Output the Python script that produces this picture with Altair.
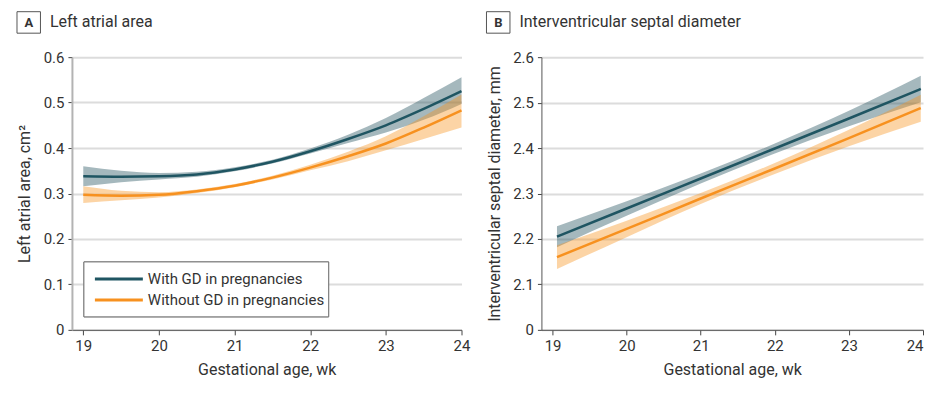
import altair as alt
import pandas as pd

groups = ["With GD in pregnancies", "Without GD in pregnancies"]
line_colors = ["#1f5562", "#f7911f"]
band_colors = ["#1f4e5a", "#f7941d"]

# Panel A: left atrial area (cm^2)
a_weeks = [19.0, 19.5, 20.0, 20.5, 21.0, 21.5, 22.0, 22.5, 23.0, 23.5, 24.0]
a_with_mean = [0.338, 0.337, 0.338, 0.342, 0.353, 0.370, 0.393, 0.420, 0.450, 0.486, 0.525]
a_with_lo = [0.316, 0.325, 0.331, 0.337, 0.349, 0.366, 0.388, 0.411, 0.434, 0.462, 0.497]
a_with_hi = [0.360, 0.350, 0.345, 0.348, 0.358, 0.374, 0.399, 0.429, 0.466, 0.510, 0.556]
a_without_mean = [0.297, 0.295, 0.297, 0.305, 0.317, 0.335, 0.357, 0.382, 0.410, 0.445, 0.483]
a_without_lo = [0.279, 0.285, 0.291, 0.301, 0.314, 0.331, 0.351, 0.371, 0.395, 0.420, 0.445]
a_without_hi = [0.316, 0.306, 0.303, 0.309, 0.321, 0.339, 0.363, 0.392, 0.426, 0.470, 0.518]

# Panel B: interventricular septal diameter (mm)
b_weeks = [19.06, 20.0, 21.0, 22.0, 23.0, 23.97]
b_with_mean = [2.205, 2.267, 2.333, 2.399, 2.465, 2.530]
b_with_lo = [2.182, 2.251, 2.322, 2.388, 2.448, 2.501]
b_with_hi = [2.228, 2.283, 2.344, 2.410, 2.482, 2.559]
b_without_mean = [2.160, 2.222, 2.289, 2.355, 2.422, 2.488]
b_without_lo = [2.134, 2.204, 2.277, 2.343, 2.404, 2.458]
b_without_hi = [2.186, 2.240, 2.301, 2.367, 2.440, 2.517]

x_ticks = [19, 20, 21, 22, 23, 24]
a_y_ticks = [0, 0.1, 0.2, 0.3, 0.4, 0.5, 0.6]
b_y_ticks = [2.0, 2.1, 2.2, 2.3, 2.4, 2.5, 2.6]


def frame(weeks, m1, l1, h1, m2, l2, h2):
    rows = []
    for g, (m, l, h) in zip(groups, [(m1, l1, h1), (m2, l2, h2)]):
        for w, mv, lv, hv in zip(weeks, m, l, h):
            rows.append({"week": w, "mean": mv, "lo": lv, "hi": hv, "group": g})
    return pd.DataFrame(rows)


df_a = frame(a_weeks, a_with_mean, a_with_lo, a_with_hi, a_without_mean, a_without_lo, a_without_hi)
df_b = frame(b_weeks, b_with_mean, b_with_lo, b_with_hi, b_without_mean, b_without_lo, b_without_hi)

FONT = "Roboto"
TEXT = "#333333"
H = 273


def legend_layers():
    ldf = pd.DataFrame({"group": groups})
    frame_box = alt.Chart(ldf).mark_rect(fill="white", stroke="#777777", strokeWidth=1).encode(
        x=alt.value(12), x2=alt.value(257), y=alt.value(205), y2=alt.value(260)
    )
    layers = [frame_box]
    for i, (g, c) in enumerate(zip(groups, line_colors)):
        row_y = 222 + 21 * i
        sub = alt.Chart(ldf).transform_filter(alt.datum.group == g)
        layers.append(sub.mark_rule(strokeWidth=3, color=c).encode(
            x=alt.value(23), x2=alt.value(71), y=alt.value(row_y)))
        layers.append(sub.mark_text(font=FONT, fontSize=15, color=TEXT, align="left",
                                    baseline="middle").encode(
            x=alt.value(76), y=alt.value(row_y), text="group:N"))
    return layers


def panel(df, letter, title, ytitle, ydomain, yticks, label_expr, ydomain_color, ydomain_width,
          last_align, with_legend, width):
    x_axis = alt.Axis(values=x_ticks, title="Gestational age, wk", grid=False,
                      labelPadding=4, titlePadding=8, domainColor="#555555",
                      labelAlign=alt.ExprRef(expr=f"datum.value == 24 ? '{last_align}' : 'center'"))
    y_axis = alt.Axis(values=yticks, labelExpr=label_expr, title=ytitle, grid=True,
                      labelPadding=4, tickSize=4, titleX=-47, titleY=H / 2,
                      titleAngle=270, titleAlign="center", titleBaseline="middle",
                      domainColor=ydomain_color, domainWidth=ydomain_width)
    xs = alt.Scale(domain=[18.85, 24], nice=False, zero=False)
    ys = alt.Scale(domain=ydomain, nice=False, zero=False)

    band = alt.Chart(df).mark_area(opacity=0.4, interpolate="monotone").encode(
        x=alt.X("week:Q", scale=xs, axis=x_axis),
        y=alt.Y("lo:Q", scale=ys, axis=y_axis),
        y2="hi:Q",
        fill=alt.Fill("group:N", scale=alt.Scale(domain=groups, range=band_colors), legend=None),
    )
    line = alt.Chart(df).mark_line(strokeWidth=2.5, interpolate="monotone").encode(
        x=alt.X("week:Q", scale=xs, axis=x_axis),
        y=alt.Y("mean:Q", scale=ys, axis=y_axis),
        color=alt.Color("group:N", scale=alt.Scale(domain=groups, range=line_colors),
                        legend=None),
    )
    lab = pd.DataFrame({"letter": [letter], "title": [title]})
    box = alt.Chart(lab).mark_rect(fill="white", stroke="#555555", strokeWidth=1).encode(
        x=alt.value(-55), x2=alt.value(-31.5), y=alt.value(-45.5), y2=alt.value(-24)
    )
    letter_t = alt.Chart(lab).mark_text(font=FONT, fontSize=13, fontWeight="bold", color=TEXT,
                                        align="center", baseline="middle").encode(
        x=alt.value(-43.2), y=alt.value(-34.5), text="letter:N"
    )
    title_t = alt.Chart(lab).mark_text(font=FONT, fontSize=16, color=TEXT,
                                       align="left", baseline="middle").encode(
        x=alt.value(-22), y=alt.value(-35), text="title:N"
    )
    layers = [band, line, box, letter_t, title_t]
    if with_legend:
        layers += legend_layers()
    return alt.layer(*layers).properties(width=width, height=H)


pa = panel(df_a, "A", "Left atrial area", "Left atrial area, cm²", [0, 0.6], a_y_ticks,
           "datum.value == 0 ? '0' : format(datum.value, '.1f')", "#b3b3b3", 2, "center", True, 390)
pb = panel(df_b, "B", "Interventricular septal diameter", "Interventricular septal diameter, mm",
           [2.0, 2.6], b_y_ticks,
           "datum.value < 2.05 ? '0' : format(datum.value, '.1f')", "#555555", 1, "right", False, 382)

chart = alt.hconcat(pa, pb, spacing=15).resolve_scale(
    color="independent", fill="independent"
).properties(
    padding={"left": 8, "top": 3, "right": 0, "bottom": 0}
).configure_view(stroke=None).configure_axis(
    labelFont=FONT, labelFontSize=15, labelColor=TEXT,
    titleFont=FONT, titleFontSize=16, titleFontWeight="normal", titleColor=TEXT,
    tickColor="#444444", tickSize=5, gridColor="#dcdcdc", gridWidth=2,
)

chart.save("out.html", embed_options={"renderer": "svg", "actions": False})
